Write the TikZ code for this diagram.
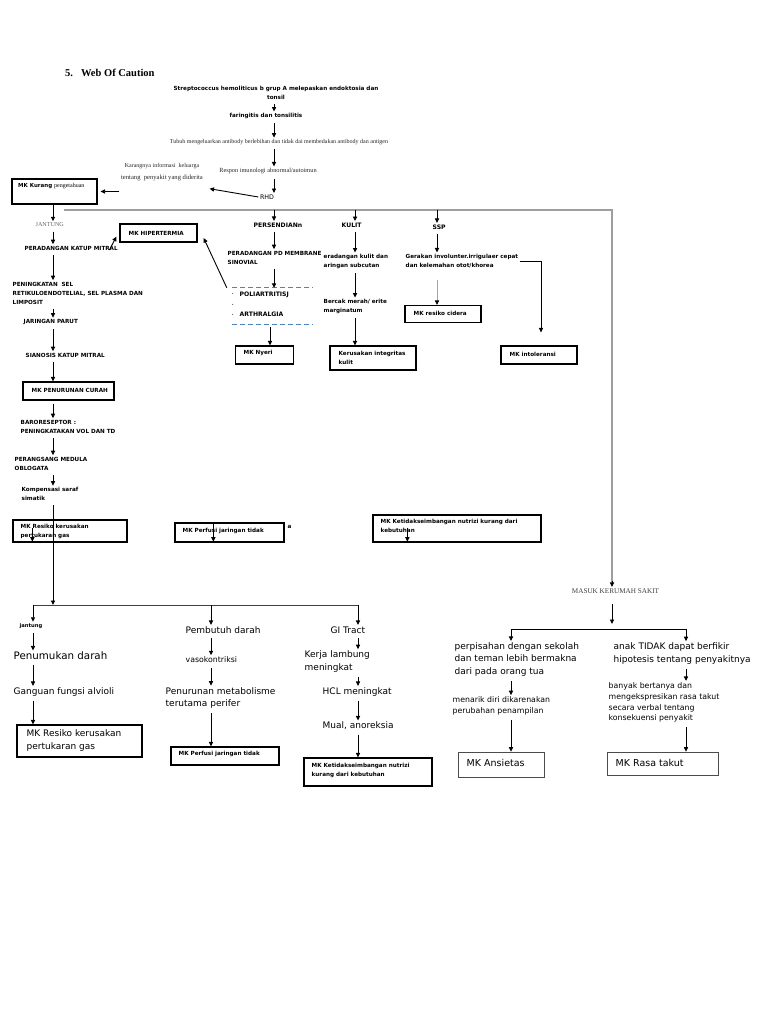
\documentclass[tikz,border=0pt]{standalone}
\usepackage{fontspec}
\setmainfont{Liberation Serif}
\setsansfont{DejaVu Sans}
\usetikzlibrary{arrows.meta,calc}
\definecolor{dblue}{RGB}{79,129,189}
\begin{document}
\begin{tikzpicture}[x=1pt,y=1pt,
  arr/.style={line width=0.9pt,-{Triangle[length=4.5pt,width=4.2pt,color=black]}},
  carr/.style={arr,shorten <=3pt},
  tb/.style={font=\sffamily\bfseries\fontsize{5.65}{9}\selectfont,anchor=west,align=left,inner sep=1.5pt},
  tbb/.style={font=\sffamily\bfseries\fontsize{6.1}{8}\selectfont,anchor=west,inner sep=1.5pt},
  sr/.style={font=\rmfamily\fontsize{6}{8}\selectfont,text=black!85,inner sep=1.5pt},
  nm/.style={font=\sffamily\fontsize{9}{12.5}\selectfont,anchor=west,align=left,inner sep=1.5pt},
  sm/.style={font=\sffamily\fontsize{7.8}{10.8}\selectfont,anchor=west,align=left,inner sep=1.5pt},
  box/.style={draw,line width=1.3pt,inner sep=0},
  gbox/.style={draw=black!70,line width=0.8pt,inner sep=0},
  greyline/.style={draw=black!38,line width=1.4pt},
  dline/.style={draw=dblue,line width=0.8pt,dash pattern=on 5pt off 3pt}]
\useasboundingbox (0,0) rectangle (768,-1024);
\fill[white] (0,0) rectangle (768,-1024);

% column coordinates
\coordinate (cT) at (274,0);
\coordinate (cT2) at (270,0);
\coordinate (cK) at (355,0);
\coordinate (cS) at (437,0);
\coordinate (cL) at (53,0);
\coordinate (cB1) at (33,0);
\coordinate (cB2) at (211,0);
\coordinate (cB3) at (358,0);
\coordinate (cR1) at (511,0);
\coordinate (cR2) at (686,0);
\coordinate (cM) at (612,0);

% title and top chain
\node[font=\rmfamily\bfseries\fontsize{10.5}{12}\selectfont,anchor=west,inner sep=0] (title) at (65,-73) {5.\hspace{8pt}Web Of Caution};
\node[tb,align=center,anchor=center] (strep) at (276,-92.5) {Streptococcus hemoliticus b grup A melepaskan endoktosia dan\\tonsil};
\node[tb,anchor=center] (faring) at (266,-116) {faringitis dan tonsilitis};
\node[sr] (tubuh) at (279,-142) {Tubuh mengeluarkan antibody berlebihan dan tidak dai membedakan antibody dan antigen};
\node[sr,font=\rmfamily\fontsize{6.3}{8}\selectfont] (respon) at (268,-171) {Respon imunologi abnormal/autoimun};
\node[font=\sffamily\fontsize{6.3}{8}\selectfont,inner sep=1.5pt] (rhd) at (267,-197) {RHD};
\node[sr] (karang1) at (162,-166) {Karangnya informasi\ \ keluarga};
\node[sr,font=\rmfamily\fontsize{6.6}{8}\selectfont] (karang2) at (162,-178) {tentang\ \ penyakit yang diderita};

\foreach \a/\b in {strep/faring,faring/tubuh,tubuh/respon,respon/rhd}
  {\draw[carr] (\a.south -| cT) -- (\b.north -| cT);}

\node[box,minimum width=85pt,minimum height=25pt] (kurang) at (54.5,-191.5) {};
\node[anchor=west,inner sep=0] (kurangt) at (18,-186) {\sffamily\bfseries\fontsize{5.5}{7}\selectfont MK Kurang \rmfamily\mdseries\fontsize{6}{7}\selectfont pengetahuan};
\draw[arr] (rhd.west) -- ($(karang2.south east)+(5,-6)$);
\draw[arr] (karang2.south west |- kurang.east) -- ($(kurang.east)+(3,0)$);

% grey trunk
\coordinate (hl0) at (64,-210);
\coordinate (hlR) at (612,-210);
\node[sr,font=\rmfamily\fontsize{7.2}{9}\selectfont,text=black!75] (masuk) at (615.5,-591) {MASUK KERUMAH SAKIT};
\draw[greyline] (hl0) -- (hlR) -- ($(hlR |- masuk.north)+(0,5)$);
\draw[arr] ($(hlR |- masuk.north)+(0,6)$) -- (hlR |- masuk.north);

% left column
\coordinate (jstart) at (53,-205);
\node[sr,anchor=west,text=black!60,font=\rmfamily\fontsize{6.1}{8}\selectfont] (jantungT) at (34,-225) {JANTUNG};
\draw[arr] (jstart) -- (jantungT.north -| cL);
\node[tb] (pkm) at (23,-248) {PERADANGAN KATUP MITRAL};
\node[tb] (pen) at (11,-293) {PENINGKATAN\ \ SEL\\RETIKULOENDOTELIAL, SEL PLASMA DAN\\LIMPOSIT};
\node[tb] (parut) at (22,-322) {JARINGAN PARUT};
\node[tb] (sian) at (24,-355) {SIANOSIS KATUP MITRAL};
\node[box,minimum width=91pt,minimum height=18pt] (curah) at (68.5,-391) {};
\node[tb] (curaht) at (30,-390) {MK PENURUNAN CURAH};
\node[tb] (baro) at (19,-426.5) {BARORESEPTOR :\\PENINGKATAKAN VOL DAN TD};
\node[tb] (medula) at (13,-463.5) {PERANGSANG MEDULA\\OBLOGATA};
\node[tb] (kompen) at (20,-494) {Kompensasi saraf\\simatik};
\node[box,minimum width=114pt,minimum height=22pt] (res1) at (70,-531) {};
\node[tb] (res1t) at (19,-531.5) {MK Resiko kerusakan\\pertukaran gas};
\foreach \a/\b in {jantungT/pkm,pkm/pen,pen/parut,parut/sian,sian/curah,curah/baro,baro/medula,medula/kompen}
  {\draw[carr] (\a.south -| cL) -- (\b.north -| cL);}
\draw[arr] ($(res1.south west)+(20,15)$) -- ($(res1.south west)+(20,1)$);

% hipertermia
\node[box,minimum width=77pt,minimum height=18pt] (hiper) at (158.5,-233) {};
\node[tb] (hipert) at (127,-233) {MK HIPERTERMIA};

% persendian
\node[tbb] (persend) at (252,-225) {PERSENDIANn};
\node[tb] (pdmem) at (226,-257.5) {PERADANGAN PD MEMBRANE\\SINOVIAL};
\node[minimum width=81pt,minimum height=36pt,inner sep=0] (poli) at (272.5,-306) {};
\draw[dline] (poli.north west) -- (poli.north east);
\draw[dline] (poli.south west) -- (poli.south east);
\node[tbb] (poli1) at (238,-295) {POLIARTRITISJ};
\node[tbb] (poli2) at (238,-314) {ARTHRALGIA};
\node[tb,text=black!60] (dot1) at (230,-294) {.};
\node[tb,text=black!60] (dot2) at (230,-305) {.};
\node[tb,text=black!60] (dot3) at (230,-315) {.};
\node[box,minimum width=58pt,minimum height=18pt] (nyeri) at (264.5,-355) {};
\node[tb] (nyerit) at (242,-353) {MK Nyeri};
\draw[arr] ($(pkm.east)+(-10,-2)$) -- ($(hiper.south west)+(-3,6)$);
\draw[arr] ($(poli.north west)+(-5,0)$) -- ($(hiper.east)+(6,-5)$);

% kulit
\node[tbb] (kulit) at (340,-225) {KULIT};
\node[tb] (pkulit) at (322,-261.5) {eradangan kulit dan\\aringan subcutan};
\node[tb] (bercak) at (322,-306.5) {Bercak merah/ erite\\marginatum};
\node[box,minimum width=86pt,minimum height=24pt] (kerus) at (373,-358) {};
\node[tb] (kerust) at (337,-358) {Kerusakan integritas\\kulit};

% ssp
\node[tbb] (ssp) at (431,-227) {SSP};
\node[tb] (gerak) at (404,-261) {Gerakan involunter.irrigulaer cepat\\dan kelemahan otot/khorea};
\node[box,minimum width=76pt,minimum height=17pt] (cidera) at (443,-314) {};
\node[tb] (ciderat) at (412,-313) {MK resiko cidera};
\node[box,minimum width=76pt,minimum height=18pt] (intol) at (539,-355) {};
\node[tb] (intolt) at (508,-354) {MK intoleransi};

\draw[arr] (cT |- hl0) -- (cT |- persend.north);
\draw[arr] (cK |- hl0) -- (cK |- kulit.north);
\draw[arr] (cS |- hl0) -- (cS |- ssp.north);
\foreach \a/\b in {persend/pdmem,pdmem/poli}
  {\draw[carr] (\a.south -| cT) -- (\b.north -| cT);}
\draw[carr] (poli.south -| cT2) -- (nyeri.north -| cT2);
\foreach \a/\b in {kulit/pkulit,pkulit/bercak,bercak/kerus}
  {\draw[carr] (\a.south -| cK) -- (\b.north -| cK);}
\draw[carr] (ssp.south -| cS) -- (gerak.north -| cS);
\draw[arr,black!35,shorten <=10pt] (gerak.south -| cS) -- (cidera.north -| cS);
\draw[arr,line width=0.6pt] (gerak.east) -| ($(intol.north)+(2,13)$);

% row of boxes near 530
\node[box,minimum width=109pt,minimum height=19pt] (perf1) at (229.5,-532.5) {};
\node[tb] (perf1t) at (181,-531) {MK Perfusi jaringan tidak};
\node[tb] (afrag) at (286,-527) {a};
\draw[arr] ($(perf1.north west)+(39,0)$) -- ($(perf1.south west)+(39,1)$);
\node[box,minimum width=168pt,minimum height=27pt] (keti1) at (457,-528.5) {};
\node[tb] (keti1t) at (379,-525.5) {MK Ketidakseimbangan nutrizi kurang dari\\kebutuhan};
\draw[arr] ($(keti1.south west)+(35,15)$) -- ($(keti1.south west)+(35,1)$);

% bottom split
\coordinate (bl1) at (33,-605);
\coordinate (bl2) at (358,-605);
\draw[line width=0.8pt,black!75] (bl1) -- (bl2);
\draw[carr] (kompen.south -| cL) -- (cL |- bl1);

\node[tb,font=\sffamily\bfseries\fontsize{5.2}{7}\selectfont] (jant2) at (18,-626) {jantung};
\node[nm,font=\sffamily\fontsize{10.3}{12}\selectfont] (penum) at (12,-656) {Penumukan darah};
\node[nm] (gang) at (12,-692) {Ganguan fungsi alvioli};
\node[box,line width=1.3pt,minimum width=125pt,minimum height=32pt] (res2) at (79.5,-741) {};
\node[nm] (res2t) at (25,-740.5) {MK Resiko kerusakan\\pertukaran gas};
\draw[arr] (bl1) -- (jant2.north -| cB1);
\foreach \a/\b in {jant2/penum,penum/gang,gang/res2}
  {\draw[carr] (\a.south -| cB1) -- (\b.north -| cB1);}

\node[nm] (pembutuh) at (184,-630) {Pembutuh darah};
\node[sm] (vaso) at (184,-660) {vasokontriksi};
\node[nm] (penur) at (164,-698) {Penurunan metabolisme\\terutama perifer};
\node[box,minimum width=108pt,minimum height=18pt] (perf2) at (225,-756) {};
\node[tb] (perf2t) at (177,-754) {MK Perfusi jaringan tidak};
\draw[arr] (cB2 |- bl1) -- (cB2 |- pembutuh.north);
\foreach \a/\b in {pembutuh/vaso,vaso/penur,penur/perf2}
  {\draw[carr] (\a.south -| cB2) -- (\b.north -| cB2);}

\node[nm] (gi) at (329,-630) {GI Tract};
\node[nm] (kerja) at (303,-661.5) {Kerja lambung\\meningkat};
\node[nm] (hcl) at (321,-692) {HCL meningkat};
\node[nm] (mual) at (321,-726) {Mual, anoreksia};
\node[box,minimum width=128pt,minimum height=28pt] (keti2) at (368,-772) {};
\node[tb] (keti2t) at (310,-770) {MK Ketidakseimbangan nutrizi\\kurang dari kebutuhan};
\draw[arr] (bl2) -- (bl2 |- gi.north);
\foreach \a/\b in {gi/kerja,kerja/hcl,hcl/mual,mual/keti2}
  {\draw[carr] (\a.south -| cB3) -- (\b.north -| cB3);}

% right bottom
\coordinate (msa) at (612,-604);
\coordinate (msp) at (612,-624);
\draw[arr] (msa) -- (msp);
\coordinate (rl) at (511,-629);
\coordinate (rr) at (686,-629);
\draw[line width=0.8pt] (rl) -- (rr);
\node[nm] (perpis) at (453,-659.5) {perpisahan dengan sekolah\\dan teman lebih bermakna\\dari pada orang tua};
\node[sm] (menarik) at (451,-706) {menarik diri dikarenakan\\perubahan penampilan};
\node[gbox,minimum width=86pt,minimum height=25pt] (ansi) at (501,-764.5) {};
\node[nm,font=\sffamily\fontsize{9.5}{12}\selectfont] (ansit) at (465,-763) {MK Ansietas};
\node[nm] (anak) at (612,-653.5) {anak TIDAK dapat berfikir\\hipotesis tentang penyakitnya};
\node[sm] (banyak) at (607,-702.5) {banyak bertanya dan\\mengekspresikan rasa takut\\secara verbal tentang\\konsekuensi penyakit};
\node[gbox,minimum width=111pt,minimum height=23pt] (takut) at (662.5,-763.5) {};
\node[nm,font=\sffamily\fontsize{9.5}{12}\selectfont] (takutt) at (614,-763) {MK Rasa takut};
\draw[arr] (rl) -- (rl |- perpis.north);
\draw[arr] (rr) -- (rr |- anak.north);
\foreach \a/\b in {perpis/menarik,menarik/ansi}
  {\draw[carr] (\a.south -| cR1) -- (\b.north -| cR1);}
\foreach \a/\b in {anak/banyak,banyak/takut}
  {\draw[carr] (\a.south -| cR2) -- (\b.north -| cR2);}
\end{tikzpicture}
\end{document}
